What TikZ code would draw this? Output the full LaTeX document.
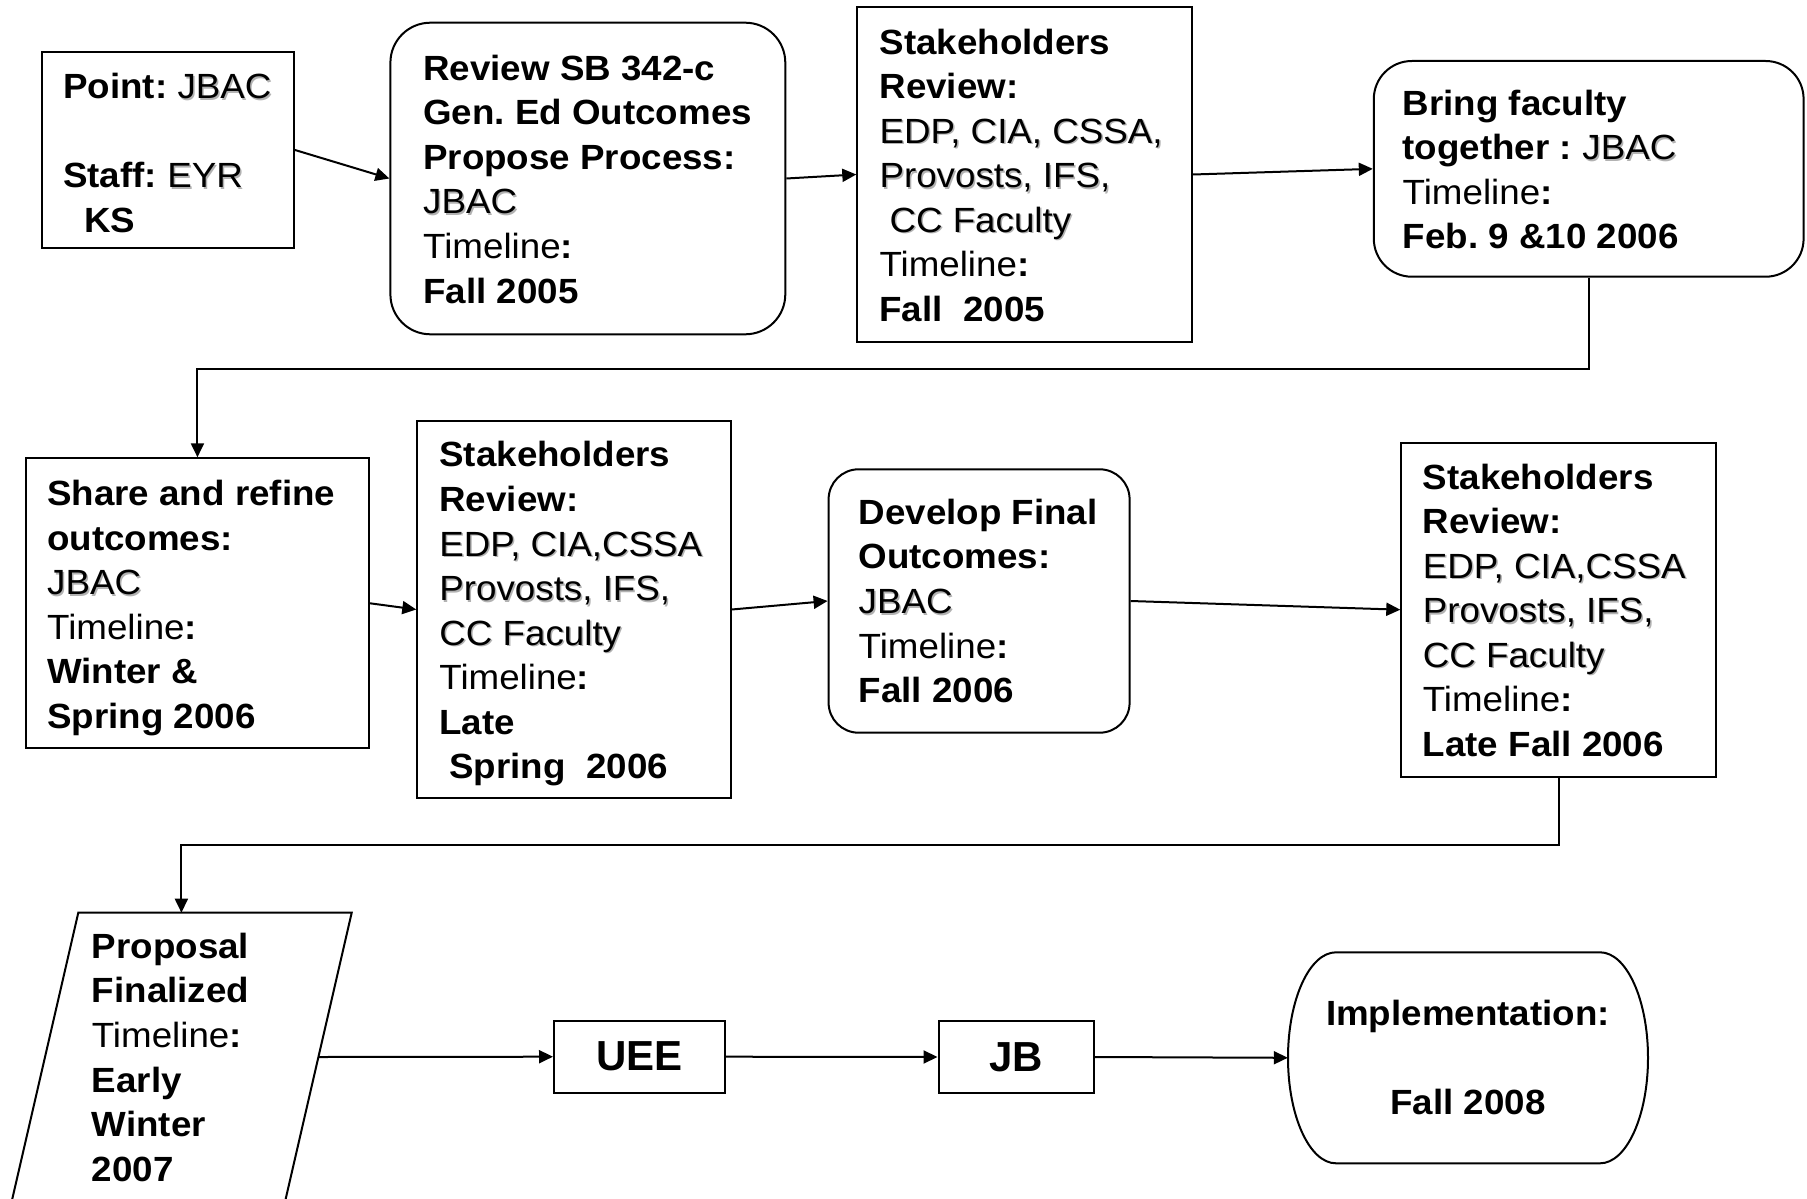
\documentclass[tikz,border=0pt]{standalone}
\usepackage{fontspec}
\setmainfont{Liberation Sans}[FakeStretch=1.05]
\newfontfamily\labelfont{Liberation Sans}
\usetikzlibrary{arrows.meta}
\frenchspacing

% regular text with a soft grey drop shadow
\newcommand\shd[1]{\leavevmode\rlap{\kern1.5pt\raisebox{-1.5pt}{\textcolor{black!30}{#1}}}#1}
\newcommand\tline{Timeline\textbf{:}}

\tikzset{
  outline/.style={draw, line width=2pt},
  plainbox/.style={outline, rectangle, inner sep=0pt},
  roundbox/.style={outline, rectangle, rounded corners=#1, inner sep=0pt},
  boxtext/.style={align=left, inner sep=0pt, anchor=west, font=\fontsize{35}{44.55}\selectfont},
  bigtext/.style={font=\labelfont\fontsize{42}{50}\selectfont\bfseries},
  flow/.style={line width=2pt, -{Triangle[length=14pt,width=13pt]}},
}

\begin{document}
\begin{tikzpicture}[x=1pt, y=-1pt]
\useasboundingbox[fill=white] (0,0) rectangle (1807,1199);

% ---- first row ----
\node[plainbox, minimum width=252pt, minimum height=196pt] (point) at (168,150) {};
\node[boxtext] (pointT) at (63,153)
  {\textbf{Point:} \shd{JBAC}\\ \mbox{}\\ \textbf{Staff:} \shd{EYR}\\ \hspace*{21pt}\textbf{KS}};

\node[roundbox=40pt, minimum width=394.9pt, minimum height=311.6pt] (review) at (587.85,178.5) {};
\node[boxtext] (reviewT) at (423,179.2)
  {\textbf{Review SB 342-c}\\ \textbf{Gen. Ed Outcomes}\\ \textbf{Propose Process:}\\ \shd{JBAC}\\ \tline\\ \textbf{Fall 2005}};

\node[plainbox, minimum width=334.6pt, minimum height=334.4pt] (stake1) at (1024.6,174.5) {};
\node[boxtext] (stake1T) at (879.3,175.2)
  {\textbf{Stakeholders}\\ \textbf{Review:}\\ \shd{EDP, CIA, CSSA,}\\ \shd{Provosts, IFS,}\\ \hspace*{10pt}\shd{CC Faculty}\\ \tline\\ \textbf{Fall\ \ 2005}};

\node[roundbox=38pt, minimum width=429.8pt, minimum height=215.7pt] (faculty) at (1588.7,168.85) {};
\node[boxtext] (facultyT) at (1402.5,169.4)
  {\textbf{Bring faculty}\\ \textbf{together :} \shd{JBAC}\\ \tline\\ \textbf{Feb. 9 \&10 2006}};

% ---- second row ----
\node[plainbox, minimum width=343.3pt, minimum height=290pt] (share) at (197.45,603.3) {};
\node[boxtext] (shareT) at (47,608.1)
  {\textbf{Share and refine}\\ \textbf{outcomes:}\\ \shd{JBAC}\\ \tline\\ \textbf{Winter \&}\\ \textbf{Spring 2006}};

\node[plainbox, minimum width=313.5pt, minimum height=377.6pt] (stake2) at (574.05,609.5) {};
\node[boxtext] (stake2T) at (439.2,613.9)
  {\textbf{Stakeholders}\\ \textbf{Review:}\\ \shd{EDP, CIA,CSSA}\\ \shd{Provosts, IFS,}\\ \shd{CC Faculty}\\ \tline\\ \textbf{Late}\\ \hspace*{10pt}\textbf{Spring\ \ 2006}};

\node[roundbox=30pt, minimum width=301pt, minimum height=263.4pt] (final) at (979.1,601) {};
\node[boxtext] (finalT) at (858.5,601)
  {\textbf{Develop Final}\\ \textbf{Outcomes:}\\ \shd{JBAC}\\ \tline\\ \textbf{Fall 2006}};

\node[plainbox, minimum width=314.4pt, minimum height=334pt] (stake3) at (1558.5,609.7) {};
\node[boxtext] (stake3T) at (1422.6,610.3)
  {\textbf{Stakeholders}\\ \textbf{Review:}\\ \shd{EDP, CIA,CSSA}\\ \shd{Provosts, IFS,}\\ \shd{CC Faculty}\\ \tline\\ \textbf{Late Fall 2006}};

% ---- third row ----
% slanted input/output box, running off the bottom edge
\begin{scope}
  \clip (0,0) rectangle (1807,1199);
  \draw[outline] (78.3,912.7) -- (351.7,912.7) -- (271.6,1260) -- (-1.8,1260) -- cycle;
\end{scope}
\coordinate (propTop) at (181.4,912.7);
\coordinate (propRight) at (318.4,1057);
\node[boxtext] (prop) at (91.7,1057.3)
  {\textbf{Proposal}\\ \textbf{Finalized}\\ \tline\\ \textbf{Early}\\ \textbf{Winter}\\ \textbf{2007}};

\node[plainbox, minimum width=171pt, minimum height=72pt, bigtext] (uee) at (639.5,1056.7) {UEE};
\node[plainbox, minimum width=155.5pt, minimum height=72.6pt, bigtext] (jb) at (1016.25,1057) {JB};

% terminal shape with flat top and bottom and bulging sides
\node[inner sep=0pt, minimum width=360pt, minimum height=211pt, align=center,
      font=\fontsize{35}{44.55}\selectfont\bfseries] (impl) at (1468,1057.8)
  {Implementation:\\ \mbox{}\\ Fall 2008};
\draw[outline] (1336,952.3) -- (1600,952.3)
  .. controls (1626.5,952.3) and (1648,999.6) .. (1648,1057.8)
  .. controls (1648,1116) and (1626.5,1163.3) .. (1600,1163.3)
  -- (1336,1163.3)
  .. controls (1309.5,1163.3) and (1288,1116) .. (1288,1057.8)
  .. controls (1288,999.6) and (1309.5,952.3) .. (1336,952.3) -- cycle;

% ---- connectors ----
\draw[flow] (point.east) -- (review.west);
\draw[flow] (review.east) -- (stake1.west);
\draw[flow] (stake1.east) -- (faculty.west);
\draw[flow] (faculty.south) -- ++(0,91) -| (share.north);
\draw[flow] (share.east) -- (stake2.west);
\draw[flow] (stake2.east) -- (final.west);
\draw[flow] (final.east) -- (stake3.west);
\draw[flow] (stake3.south) -- ++(0,67) -| (propTop);
\draw[flow] (propRight) -- (uee.west);
\draw[flow] (uee.east) -- (jb.west);
\draw[flow] (jb.east) -- (impl.west);
\end{tikzpicture}
\end{document}
